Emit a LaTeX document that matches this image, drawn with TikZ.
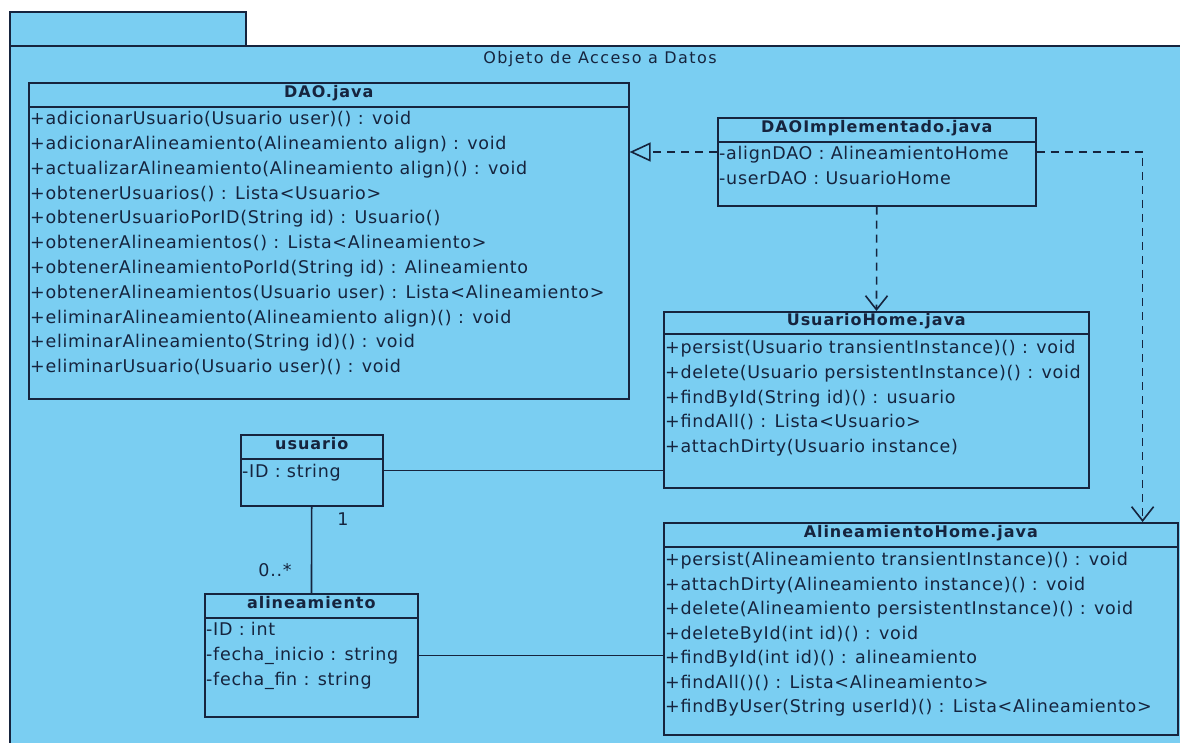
\documentclass[tikz,border=0pt]{standalone}
\usepackage{fontspec}
\setmainfont{DejaVu Sans}
\newfontfamily\hdrfont{DejaVu Sans}[LetterSpace=6]
\newfontfamily\memfont{DejaVu Sans}[LetterSpace=4]
\newfontfamily\titlefont{DejaVu Sans}[LetterSpace=9]
\usetikzlibrary{arrows.meta,calc}
\definecolor{pkgfill}{RGB}{122,206,242}
\definecolor{ink}{RGB}{22,36,62}
\begin{document}
\begin{tikzpicture}[x=1pt,y=-1pt,
  every node/.style={text=ink},
  outline/.style={draw=ink,line width=1.6pt},
  cls/.style={outline,fill=pkgfill,rectangle,inner sep=0pt,anchor=north west},
  hdr/.style={font=\hdrfont\fontsize{16}{18}\selectfont\bfseries,inner sep=0pt,anchor=mid},
  mem/.style={font=\memfont\fontsize{17.5}{19}\selectfont,inner sep=0pt,anchor=mid west},
  mult/.style={font=\memfont\fontsize{17.5}{19}\selectfont,inner sep=0pt,anchor=mid},
  link/.style={draw=ink,line width=1.6pt},
  dep/.style={link,dash pattern=on 8pt off 6pt,-{Straight Barb[length=14pt,width=22pt,line width=1.6pt]}},
  realize/.style={link,dash pattern=on 8pt off 6pt,-{Triangle[open,length=21pt,width=19pt,line width=1.6pt,fill=pkgfill]}}
]
\useasboundingbox (0,0) rectangle (1180,743);
\clip (0,0) rectangle (1180,743);
\fill[white] (0,0) rectangle (1180,743);

% package with its tab
\draw[outline,fill=pkgfill] (10,12) rectangle (246,46);
\draw[outline,fill=pkgfill] (10,46) rectangle (1200,770);
\node[font=\titlefont\fontsize{16}{18}\selectfont,inner sep=0pt] (pkgname) at (600,59) {Objeto de Acceso a Datos};

% class boxes
\node[cls,minimum width=600pt,minimum height=316pt] (dao) at (28,82) {};
\node[cls,minimum width=318pt,minimum height=88pt] (daoimpl) at (717,117) {};
\node[cls,minimum width=425pt,minimum height=176pt] (usrhome) at (663,311) {};
\node[cls,minimum width=142pt,minimum height=71pt] (usuario) at (240,434) {};
\node[cls,minimum width=213pt,minimum height=123pt] (alin) at (204,593) {};
\node[cls,minimum width=514pt,minimum height=212pt] (alinhome) at (663,522) {};

% header separators and class names
\foreach \c/\h/\t in {dao/25/DAO.java,daoimpl/25/DAOImplementado.java,usrhome/23/UsuarioHome.java,
                      usuario/25/usuario,alin/25/alineamiento,alinhome/25/AlineamientoHome.java}{
  \draw[outline] ([yshift=-\h pt]\c.north west) -- ([yshift=-\h pt]\c.north east);
  \node[hdr] (\c-name) at ([yshift=-\h pt/2]\c.north) {\t};
}

% members
\foreach \t [count=\i] in {
  {+adicionarUsuario(Usuario user)() : void},
  {+adicionarAlineamiento(Alineamiento align) : void},
  {+actualizarAlineamiento(Alineamiento align)() : void},
  {+obtenerUsuarios() : Lista<Usuario>},
  {+obtenerUsuarioPorID(String id) : Usuario()},
  {+obtenerAlineamientos() : Lista<Alineamiento>},
  {+obtenerAlineamientoPorId(String id) : Alineamiento},
  {+obtenerAlineamientos(Usuario user) : Lista<Alineamiento>},
  {+eliminarAlineamiento(Alineamiento align)() : void},
  {+eliminarAlineamiento(String id)() : void},
  {+eliminarUsuario(Usuario user)() : void}}
  \node[mem] (dao-\i) at ([xshift=2pt,yshift={-40pt-(\i-1)*24.8pt}]dao.north west) {\t};

\foreach \t [count=\i] in {
  {-alignDAO : AlineamientoHome},
  {-userDAO : UsuarioHome}}
  \node[mem] (daoimpl-\i) at ([xshift=2pt,yshift={-40pt-(\i-1)*25pt}]daoimpl.north west) {\t};

\foreach \t [count=\i] in {
  {+persist(Usuario transientInstance)() : void},
  {+delete(Usuario persistentInstance)() : void},
  {+findById(String id)() : usuario},
  {+findAll() : Lista<Usuario>},
  {+attachDirty(Usuario instance)}}
  \node[mem] (usrhome-\i) at ([xshift=2pt,yshift={-40pt-(\i-1)*24.75pt}]usrhome.north west) {\t};

\node[mem] (usuario-1) at ([xshift=2pt,yshift=-41pt]usuario.north west) {-ID : string};

\foreach \t [count=\i] in {
  {-ID : int},
  {-fecha\_inicio : string},
  {-fecha\_fin : string}}
  \node[mem] (alin-\i) at ([xshift=2pt,yshift={-40pt-(\i-1)*25pt}]alin.north west) {\t};

\foreach \t [count=\i] in {
  {+persist(Alineamiento transientInstance)() : void},
  {+attachDirty(Alineamiento instance)() : void},
  {+delete(Alineamiento persistentInstance)() : void},
  {+deleteById(int id)() : void},
  {+findById(int id)() : alineamiento},
  {+findAll()() : Lista<Alineamiento>},
  {+findByUser(String userId)() : Lista<Alineamiento>}}
  \node[mem] (alinhome-\i) at ([xshift=2pt,yshift={-41pt-(\i-1)*24.5pt}]alinhome.north west) {\t};

% realization and dependencies
\draw[realize] ([yshift=-35pt]daoimpl.north west) coordinate (rfrom) -- (rfrom -| dao.east);
\draw[dep] (daoimpl) -- (usrhome);
\draw[dep] ([yshift=-35pt]daoimpl.north east) -| ([xshift=-36pt]alinhome.north east);

% associations
\draw[link] (usuario.east) -- (usuario.east -| usrhome.west);
\draw[link] (usuario) -- (alin);
\draw[link] (alin.east) -- (alin.east -| alinhome.west);
\node[mult] (m-one) at (343,523) {1};
\node[mult] (m-many) at (275,574) {0..*};
\end{tikzpicture}
\end{document}
